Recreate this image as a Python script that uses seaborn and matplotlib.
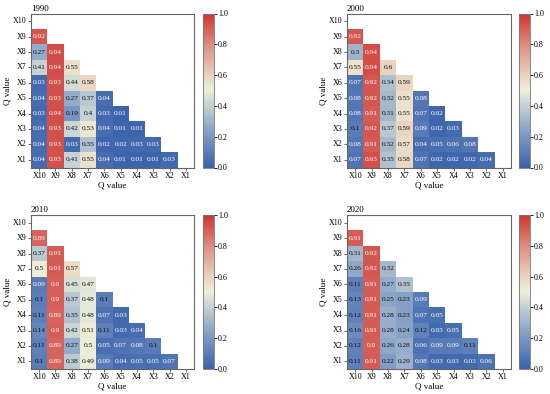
import numpy as np
import pandas as pd
import matplotlib
matplotlib.use("Agg")
import matplotlib.pyplot as plt
from matplotlib.colors import LinearSegmentedColormap
import seaborn as sns

labels = ["X10", "X9", "X8", "X7", "X6", "X5", "X4", "X3", "X2", "X1"]
years = ["1990", "2000", "2010", "2020"]

q1990 = [
    [],
    [0.92],
    [0.27, 0.94],
    [0.41, 0.94, 0.55],
    [0.03, 0.93, 0.44, 0.58],
    [0.04, 0.93, 0.27, 0.37, 0.04],
    [0.03, 0.94, 0.19, 0.4, 0.03, 0.01],
    [0.04, 0.93, 0.42, 0.53, 0.04, 0.01, 0.01],
    [0.04, 0.93, 0.03, 0.35, 0.02, 0.02, 0.03, 0.03],
    [0.04, 0.93, 0.41, 0.55, 0.04, 0.01, 0.01, 0.01, 0.03],
]
q2000 = [
    [],
    [0.92],
    [0.3, 0.94],
    [0.55, 0.94, 0.6],
    [0.07, 0.92, 0.34, 0.59],
    [0.08, 0.92, 0.32, 0.55, 0.08],
    [0.08, 0.91, 0.31, 0.55, 0.07, 0.02],
    [0.1, 0.92, 0.37, 0.59, 0.09, 0.02, 0.03],
    [0.08, 0.91, 0.32, 0.57, 0.04, 0.05, 0.06, 0.08],
    [0.07, 0.93, 0.35, 0.58, 0.07, 0.02, 0.02, 0.02, 0.04],
]
q2010 = [
    [],
    [0.89],
    [0.37, 0.91],
    [0.5, 0.91, 0.57],
    [0.09, 0.9, 0.45, 0.47],
    [0.1, 0.9, 0.37, 0.48, 0.1],
    [0.11, 0.89, 0.35, 0.48, 0.07, 0.03],
    [0.14, 0.9, 0.42, 0.51, 0.11, 0.03, 0.04],
    [0.11, 0.89, 0.27, 0.5, 0.05, 0.07, 0.08, 0.1],
    [0.1, 0.89, 0.38, 0.49, 0.09, 0.04, 0.05, 0.05, 0.07],
]
q2020 = [
    [],
    [0.91],
    [0.31, 0.92],
    [0.26, 0.92, 0.32],
    [0.11, 0.91, 0.27, 0.35],
    [0.13, 0.91, 0.25, 0.23, 0.09],
    [0.12, 0.91, 0.28, 0.23, 0.07, 0.05],
    [0.16, 0.91, 0.28, 0.24, 0.12, 0.03, 0.05],
    [0.12, 0.9, 0.26, 0.28, 0.06, 0.09, 0.09, 0.11],
    [0.11, 0.91, 0.22, 0.29, 0.08, 0.03, 0.03, 0.03, 0.06],
]
all_data = [q1990, q2000, q2010, q2020]

plt.rcParams["font.family"] = ["Liberation Serif", "DejaVu Serif"]
plt.rcParams["axes.linewidth"] = 0.8
plt.rcParams["axes.edgecolor"] = "#555555"

cmap = LinearSegmentedColormap.from_list(
    "qcmap",
    [(0.0, "#3A62AC"), (0.25, "#8CA5C7"), (0.45, "#D6DED6"), (0.5, "#EDEFDA"),
     (0.6, "#EAD3BF"), (0.8, "#DC8C80"), (1.0, "#CF3430")],
)

def make_matrix(rows):
    n = len(labels)
    m = np.full((n, n), np.nan)
    for i, r in enumerate(rows):
        for j, v in enumerate(r):
            m[i, j] = v
    return pd.DataFrame(m, index=labels, columns=labels)

W, H = 550, 394
fig = plt.figure(figsize=(5.5, 3.94), dpi=100)

panels = [(31, 194, 13.5, 167.5, 203, 214),
          (347, 511, 13.5, 167.5, 519, 530),
          (31, 194, 215, 369, 203, 214),
          (347, 511, 215, 369, 519, 530)]

for yr, rows, (x0, x1, y0, y1, c0, c1) in zip(years, all_data, panels):
    ax = fig.add_axes([x0 / W, 1 - y1 / H, (x1 - x0) / W, (y1 - y0) / H])
    cax = fig.add_axes([c0 / W, 1 - y1 / H, (c1 - c0) / W, (y1 - y0) / H])
    df = make_matrix(rows)
    mask = df.isna().values
    sns.heatmap(df, mask=mask, cmap=cmap, vmin=0, vmax=1, ax=ax, cbar_ax=cax,
                annot=False, square=False, linewidths=0)
    for i in range(len(labels)):
        for j in range(len(labels)):
            v = df.values[i, j]
            if np.isnan(v):
                continue
            col = "white" if (v < 0.095 or v > 0.75) else "#111111"
            ax.text(j + 0.5, i + 0.5, f"{v:g}", ha="center", va="center",
                    fontsize=5.3, color=col)
    for s in ax.spines.values():
        s.set_visible(True)
        s.set_color("#666666")
        s.set_linewidth(0.8)
    ax.set_xlabel("Q value", fontsize=6.5, labelpad=1)
    ax.set_ylabel("Q value", fontsize=6.5, labelpad=1)
    ax.tick_params(axis="both", labelsize=5.8, length=2, width=0.6, pad=1, color="#555555")
    ax.set_xticklabels(labels, rotation=0)
    ax.set_yticklabels(labels, rotation=0)
    ax.set_title(yr, loc="left", fontsize=6.5, pad=2)
    cb = ax.collections[0].colorbar
    cb.set_ticks([0.0, 0.2, 0.4, 0.6, 0.8, 1.0])
    cb.ax.tick_params(labelsize=5.8, length=2, width=0.6, pad=1)
    cb.outline.set_visible(True)
    cb.outline.set_linewidth(0.6)
    cb.outline.set_edgecolor("#777777")

fig.savefig("out.png", dpi=100)
